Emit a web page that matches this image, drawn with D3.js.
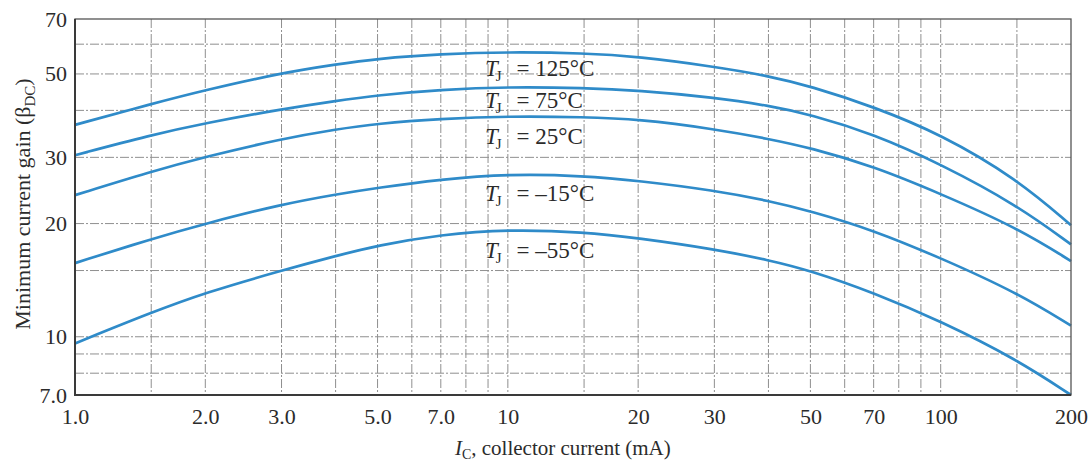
<!DOCTYPE html>
<html>
<head>
<meta charset="utf-8">
<script src="https://cdn.jsdelivr.net/npm/d3@7"></script>
<style>
	body { margin: 0; background: #fff; }
	svg text { font-family: "Liberation Serif", "Times New Roman", serif; fill: #2b2b2b; }
</style>
</head>
<body>
<svg id="chart" width="1090" height="464"></svg>
<script>
// collector current (mA) where the curves were read
var current = [1, 1.5, 2, 3, 4, 5, 7, 10, 15, 20, 30, 40, 50, 70, 100, 150, 200];

// minimum dc current gain, one list per junction temperature
var gain125 = [36.6, 41.6, 45.3, 50.3, 53.0, 54.9, 56.5, 57.2, 56.8, 55.6, 52.3, 49.4, 46.4, 40.9, 34.6, 26.3, 19.8],
		gain75 = [30.4, 34.4, 37.0, 40.3, 42.4, 43.9, 45.4, 46.2, 45.9, 45.2, 43.3, 41.2, 39.0, 34.6, 28.8, 22.4, 17.6],
		gain25 = [23.8, 27.5, 30.1, 33.6, 35.6, 36.9, 38.0, 38.6, 38.4, 37.9, 35.7, 33.6, 31.8, 28.4, 24.0, 19.5, 15.9],
		gainM15 = [15.7, 18.2, 20.0, 22.5, 23.9, 24.9, 26.2, 27.1, 26.8, 26.0, 24.5, 23.0, 21.6, 19.2, 16.2, 13.1, 10.7],
		gainM55 = [9.6, 11.6, 13.1, 15.0, 16.4, 17.5, 18.7, 19.3, 19.0, 18.3, 17.1, 16.0, 15.0, 13.1, 11.0, 8.7, 7.0];

var curveLabels = ["125°C", "75°C", "25°C", "–15°C", "–55°C"];
var labelGain = [49.4, 40.6, 32.6, 22.9, 16.2];

var xTicks = [1, 2, 3, 5, 7, 10, 20, 30, 50, 70, 100, 200],
		xTickLabels = ["1.0", "2.0", "3.0", "5.0", "7.0", "10", "20", "30", "50", "70", "100", "200"];
var yTicks = [7, 10, 20, 30, 50, 70],
		yTickLabels = ["7.0", "10", "20", "30", "50", "70"];

var xGrid = [1.5, 2, 3, 4, 5, 6, 7, 8, 9, 10, 15, 20, 30, 40, 50, 60, 70, 80, 90, 100, 150],
		yGrid = [8, 9, 10, 15, 20, 30, 40, 50, 60];

var series = [gain125, gain75, gain25, gainM15, gainM55];

var margin = {top: 19, right: 19, bottom: 69, left: 75};
var svg = d3.select("#chart"),
		width = +svg.attr("width") - margin.left - margin.right,
		height = +svg.attr("height") - margin.top - margin.bottom;

var x = d3.scaleLog().domain([1, 200]).range([0, width]),
		y = d3.scaleLog().domain([7, 70]).range([height, 0]);

var g = svg.append("g")
		.attr("transform", "translate(" + margin.left + "," + margin.top + ")");

// dashed grid
g.append("g")
		.attr("class", "grid")
	.selectAll("line")
	.data(xGrid)
	.enter().append("line")
		.attr("x1", function(d) { return x(d); })
		.attr("x2", function(d) { return x(d); })
		.attr("y1", 0)
		.attr("y2", height);

g.append("g")
		.attr("class", "grid")
	.selectAll("line")
	.data(yGrid)
	.enter().append("line")
		.attr("x1", 0)
		.attr("x2", width)
		.attr("y1", function(d) { return y(d); })
		.attr("y2", function(d) { return y(d); });

g.selectAll(".grid line")
		.attr("stroke", "#8f8f8f")
		.attr("stroke-width", 1)
		.attr("stroke-dasharray", "9,2,2,2");

// curves
var line = d3.line()
		.curve(d3.curveBasis)
		.x(function(d) { return x(d[0]); })
		.y(function(d) { return y(d[1]); });

series.forEach(function(values) {
	g.append("path")
			.datum(d3.zip(current, values))
			.attr("fill", "none")
			.attr("stroke", "#2f8bc9")
			.attr("stroke-width", 2.7)
			.attr("d", line);
});

// frame
g.append("rect")
		.attr("width", width)
		.attr("height", height)
		.attr("fill", "none")
		.attr("stroke", "#555")
		.attr("stroke-width", 1.3);
g.append("path")
		.attr("d", "M0,0V" + height + "H" + width)
		.attr("fill", "none")
		.attr("stroke", "#3a3a3a")
		.attr("stroke-width", 2);

// axes
var xAxis = d3.axisBottom(x)
		.tickValues(xTicks)
		.tickSize(0)
		.tickPadding(13)
		.tickFormat(function(d, i) { return xTickLabels[i]; });

var yAxis = d3.axisLeft(y)
		.tickValues(yTicks)
		.tickSize(0)
		.tickPadding(8)
		.tickFormat(function(d, i) { return yTickLabels[i]; });

var gx = g.append("g")
		.attr("transform", "translate(0," + height + ")")
		.call(xAxis);
var gy = g.append("g")
		.call(yAxis);

[gx, gy].forEach(function(axis) {
	axis.select(".domain").remove();
	axis.selectAll("text")
			.attr("font-family", "Liberation Serif, serif")
			.attr("font-size", 22)
			.attr("fill", "#2b2b2b");
});

// temperature labels
curveLabels.forEach(function(label, i) {
	var t = g.append("text")
			.attr("x", x(8.85))
			.attr("y", y(labelGain[i]))
			.attr("font-size", 23);
	t.append("tspan")
			.attr("font-style", "italic")
			.text("T");
	t.append("tspan")
			.attr("font-size", 15)
			.attr("dx", -2)
			.attr("dy", 5)
			.text("J");
	t.append("tspan")
			.attr("dx", 15)
			.attr("dy", -5)
			.text("= " + label);
});

// axis titles
var xTitle = svg.append("text")
		.attr("x", margin.left + x(10) + 55)
		.attr("y", 455)
		.attr("text-anchor", "middle")
		.attr("font-size", 21);
xTitle.append("tspan").attr("font-style", "italic").text("I");
xTitle.append("tspan").attr("font-size", 14).attr("dy", 4).text("C");
xTitle.append("tspan").attr("dy", -4).text(", collector current (mA)");

var yTitle = svg.append("text")
		.attr("transform", "translate(30," + (margin.top + 185) + ") rotate(-90)")
		.attr("text-anchor", "middle")
		.attr("font-size", 22);
yTitle.append("tspan").text("Minimum current gain (β");
yTitle.append("tspan").attr("font-size", 15).attr("dy", 5).text("DC");
yTitle.append("tspan").attr("dy", -5).text(")");
</script>
</body>
</html>
